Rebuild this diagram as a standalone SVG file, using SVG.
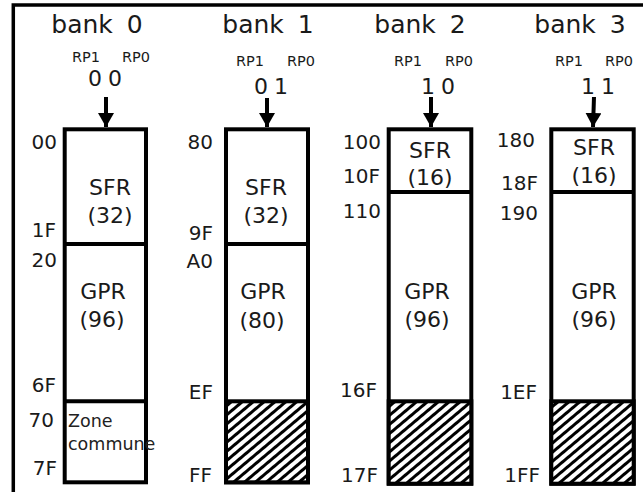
<svg xmlns="http://www.w3.org/2000/svg" width="643" height="492" viewBox="0 0 643 492">
  <style>
    text { font-family: "DejaVu Sans", Verdana, sans-serif; fill: #1a1a1a; }
    .title { font-size: 25px; text-anchor: middle; word-spacing: 6px; }
    .rp { font-size: 14.5px; }
    .bits { font-size: 22px; text-anchor: middle; word-spacing: -1px; }
    .addr { font-size: 20px; text-anchor: end; }
    .lbl { font-size: 22px; text-anchor: middle; }
    .zone { font-size: 17.5px; fill: #222; }
    .box { fill: #fff; stroke: #000; stroke-width: 4; }
    .div { stroke: #000; stroke-width: 4; }
    .hatched { fill: url(#hatch); stroke: #000; stroke-width: 4; }
    .frame { fill: none; stroke: #000; stroke-width: 3.5; }
    .arrow { stroke: #000; stroke-width: 4; fill: none; }
  </style>
  <defs>
    <pattern id="hatch" width="7" height="7" patternUnits="userSpaceOnUse" patternTransform="rotate(50)">
      <rect width="7" height="7" fill="#fff"/>
      <rect width="3" height="7" fill="#000"/>
    </pattern>
    <marker id="head" markerUnits="userSpaceOnUse" markerWidth="18" markerHeight="16" refX="14" refY="8" orient="auto">
      <path d="M0,0 L14,8 L0,16 Z" fill="#000"/>
    </marker>
  </defs>

  <rect width="643" height="492" fill="#fff"/>
  <!-- outer frame (left and top edges) -->
  <path class="frame" d="M13.3,492 V5 H643"/>

  <!-- bank 0 -->
  <g id="bank0">
    <text class="title" x="97" y="33">bank 0</text>
    <text class="rp" x="72" y="62">RP1</text>
    <text class="rp" x="122" y="62">RP0</text>
    <text class="bits" x="105" y="86">0 0</text>
    <rect class="box" x="64.7" y="129.3" width="81.3" height="353"/>
    <line class="div" x1="64.7" y1="244" x2="146" y2="244"/>
    <line class="div" x1="64.7" y1="401.3" x2="146" y2="401.3"/>
    <text class="lbl" x="110" y="195">SFR</text>
    <text class="lbl" x="110" y="223">(32)</text>
    <text class="lbl" x="103" y="299">GPR</text>
    <text class="lbl" x="102" y="327">(96)</text>
    <text class="zone" x="68" y="427">Zone</text>
    <text class="zone" x="68" y="450">commune</text>
    <text class="addr" x="57" y="149">00</text>
    <text class="addr" x="56" y="237">1F</text>
    <text class="addr" x="57" y="267">20</text>
    <text class="addr" x="56" y="392">6F</text>
    <text class="addr" x="54" y="427">70</text>
    <text class="addr" x="57" y="475">7F</text>
  </g>

  <!-- bank 1 -->
  <g id="bank1">
    <text class="title" x="268" y="33">bank 1</text>
    <text class="rp" x="236" y="66">RP1</text>
    <text class="rp" x="287" y="66">RP0</text>
    <text class="bits" x="271" y="94">0 1</text>
    <rect class="box" x="226" y="129.3" width="82" height="353"/>
    <line class="div" x1="226" y1="244" x2="308" y2="244"/>
    <rect class="hatched" x="226" y="401.3" width="82" height="81"/>
    <text class="lbl" x="266" y="195">SFR</text>
    <text class="lbl" x="266" y="223">(32)</text>
    <text class="lbl" x="263" y="299">GPR</text>
    <text class="lbl" x="262" y="328">(80)</text>
    <text class="addr" x="213" y="149">80</text>
    <text class="addr" x="213" y="240">9F</text>
    <text class="addr" x="213" y="268">A0</text>
    <text class="addr" x="213" y="399">EF</text>
    <text class="addr" x="212" y="482">FF</text>
  </g>

  <!-- bank 2 -->
  <g id="bank2">
    <text class="title" x="420" y="33">bank 2</text>
    <text class="rp" x="394" y="66">RP1</text>
    <text class="rp" x="445" y="66">RP0</text>
    <text class="bits" x="438" y="94">1 0</text>
    <rect class="box" x="388.7" y="129.3" width="82.6" height="354.4"/>
    <line class="div" x1="388.7" y1="192" x2="471.3" y2="192"/>
    <rect class="hatched" x="388.7" y="401.3" width="82.6" height="82.4"/>
    <text class="lbl" x="430" y="158">SFR</text>
    <text class="lbl" x="430" y="185">(16)</text>
    <text class="lbl" x="427" y="299">GPR</text>
    <text class="lbl" x="427" y="327">(96)</text>
    <text class="addr" x="381" y="149">100</text>
    <text class="addr" x="380" y="183">10F</text>
    <text class="addr" x="381" y="218">110</text>
    <text class="addr" x="377" y="397">16F</text>
    <text class="addr" x="378" y="482">17F</text>
  </g>

  <!-- bank 3 -->
  <g id="bank3">
    <text class="title" x="580" y="33">bank 3</text>
    <text class="rp" x="555" y="66">RP1</text>
    <text class="rp" x="605" y="66">RP0</text>
    <text class="bits" x="598" y="94">1 1</text>
    <rect class="box" x="551.3" y="129.3" width="82.4" height="354.4"/>
    <line class="div" x1="551.3" y1="192" x2="633.7" y2="192"/>
    <rect class="hatched" x="551.3" y="401.3" width="82.4" height="82.4"/>
    <text class="lbl" x="594" y="155">SFR</text>
    <text class="lbl" x="594" y="183">(16)</text>
    <text class="lbl" x="594" y="299">GPR</text>
    <text class="lbl" x="594" y="327">(96)</text>
    <text class="addr" x="535" y="147">180</text>
    <text class="addr" x="538" y="190">18F</text>
    <text class="addr" x="538" y="220">190</text>
    <text class="addr" x="537" y="399">1EF</text>
    <text class="addr" x="540" y="482">1FF</text>
  </g>

  <!-- bank-select arrows -->
  <g id="connectors">
    <line class="arrow" x1="106" y1="97" x2="106" y2="127" marker-end="url(#head)"/>
    <line class="arrow" x1="267" y1="98" x2="267" y2="127" marker-end="url(#head)"/>
    <line class="arrow" x1="431" y1="97" x2="431" y2="127" marker-end="url(#head)"/>
    <line class="arrow" x1="594" y1="97" x2="593" y2="127" marker-end="url(#head)"/>
  </g>
</svg>
